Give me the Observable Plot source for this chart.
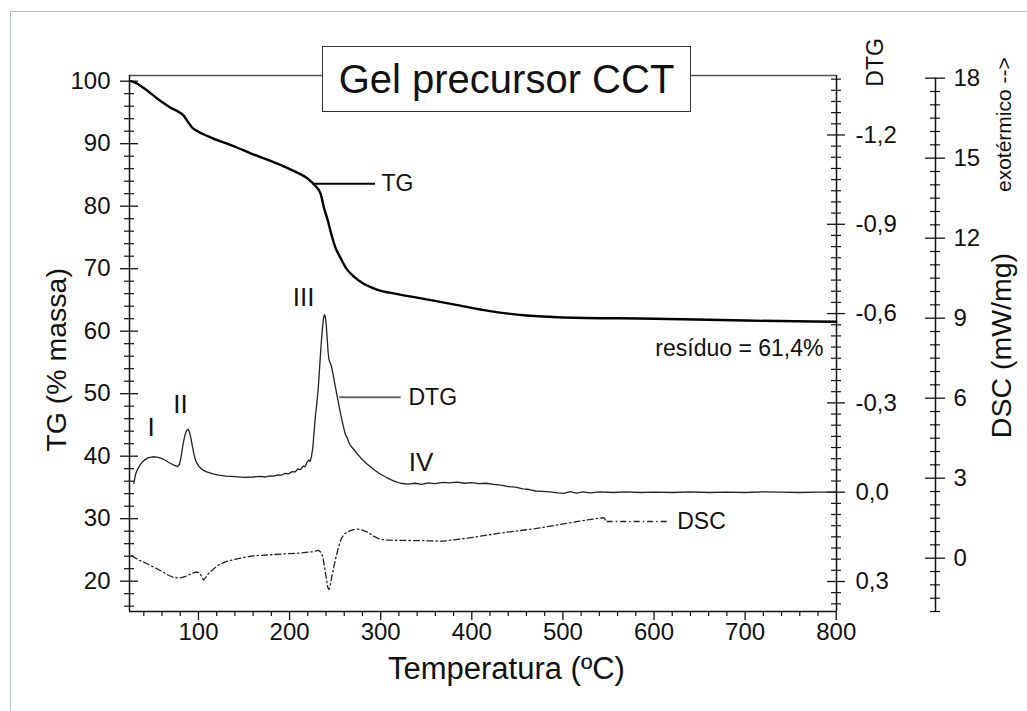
<!DOCTYPE html>
<html><head><meta charset="utf-8">
<script src="https://cdn.jsdelivr.net/npm/d3@7"></script>
<script src="https://cdn.jsdelivr.net/npm/@observablehq/plot@0.6"></script>
<style>
html,body{margin:0;padding:0;background:#fff;overflow:hidden;width:1027px;height:711px;}
#wrap{position:relative;width:1027px;height:711px;}
#border{position:absolute;left:10px;top:11px;width:1100px;height:800px;border:1px solid #b4bcc4;}
#chart{position:absolute;left:0;top:0;}
#title{position:absolute;left:322px;top:46px;width:369px;height:66px;box-sizing:border-box;border:1.5px solid #333;background:#fff;font:40px "Liberation Sans",Arial,sans-serif;display:flex;align-items:center;justify-content:center;color:#111;z-index:2;}
</style></head>
<body><div id="wrap"><div id="border"></div><div id="chart"></div><div id="title">Gel precursor CCT</div></div>
<script>
// ---- data (temperature °C, value) ----
const tgCurve = [[26,100.0],[30,99.8],[40,98.9],[55,97.2],[69,95.8],[78,95.1],[83,94.6],[88,93.6],[93,92.6],[100,91.9],[115,90.9],[137,89.7],[160,88.3],[185,86.9],[205,85.6],[220,84.4],[228,83.3],[234,82.0],[238,79.6],[242,77.7],[246,75.4],[250,73.5],[256,71.7],[262,70.1],[270,68.8],[280,67.7],[295,66.7],[320,65.9],[350,65.1],[380,64.3],[420,63.2],[460,62.5],[500,62.2],[600,62.0],[700,61.7],[800,61.5]];
const dtgCurve = [[29,-0.030],[31,-0.060],[33,-0.076],[36,-0.092],[40,-0.106],[45,-0.116],[50,-0.119],[56,-0.117],[62,-0.110],[68,-0.099],[73,-0.091],[77,-0.086],[79,-0.092],[81,-0.120],[83,-0.160],[85,-0.190],[87,-0.207],[88.5,-0.212],[90,-0.203],[91.5,-0.185],[93,-0.160],[95,-0.128],[97,-0.105],[100,-0.088],[104,-0.076],[109,-0.068],[115,-0.062],[122,-0.057],[130,-0.054],[140,-0.052],[150,-0.050],[160,-0.051],[168,-0.053],[173,-0.051],[178,-0.055],[183,-0.054],[187,-0.058],[191,-0.057],[195,-0.063],[199,-0.062],[203,-0.069],[206,-0.068],[209,-0.078],[212,-0.076],[215,-0.088],[217,-0.085],[219,-0.100],[221,-0.108],[222.5,-0.104],[224,-0.118],[225.5,-0.150],[227,-0.205],[228.5,-0.260],[230,-0.300],[231.5,-0.350],[233,-0.420],[234.5,-0.490],[236,-0.550],[237.3,-0.585],[238.3,-0.596],[239.3,-0.588],[240.3,-0.560],[241.3,-0.515],[242.3,-0.470],[243.3,-0.445],[244.5,-0.435],[246,-0.422],[247.5,-0.400],[249,-0.375],[251,-0.342],[253,-0.310],[255,-0.278],[257,-0.248],[259,-0.222],[261,-0.196],[263,-0.184],[265,-0.168],[267,-0.156],[270,-0.145],[274,-0.130],[279,-0.112],[285,-0.095],[292,-0.077],[299,-0.062],[306,-0.050],[314,-0.038],[322,-0.030],[330,-0.027],[338,-0.030],[345,-0.026],[352,-0.031],[360,-0.029],[368,-0.033],[376,-0.031],[384,-0.034],[392,-0.030],[400,-0.032],[408,-0.029],[416,-0.030],[424,-0.026],[432,-0.024],[440,-0.019],[448,-0.017],[456,-0.011],[463,-0.009],[470,-0.004],[478,-0.003],[486,-0.001],[494,0.002],[501,0.004],[508,-0.002],[515,0.003],[522,-0.001],[530,0.002],[540,-0.001],[555,0.001],[570,-0.001],[585,0.001],[600,0.000],[620,0.001],[640,-0.001],[660,0.001],[680,0.000],[700,0.001],[720,-0.001],[740,0.000],[760,0.001],[780,0.000],[800,0.000]];
const dscCurve = [[27,0.10],[29,0.04],[35,-0.08],[40,-0.15],[50,-0.32],[58,-0.46],[66,-0.62],[73,-0.73],[80,-0.74],[86,-0.68],[92,-0.58],[97,-0.52],[100.5,-0.53],[103,-0.65],[105.5,-0.82],[108,-0.72],[111,-0.58],[116,-0.42],[121,-0.27],[130,-0.13],[139,-0.05],[150,0.03],[160,0.09],[175,0.12],[194,0.16],[210,0.19],[225,0.24],[232,0.29],[234.5,0.22],[236.5,0.05],[238.5,-0.35],[240.5,-0.80],[242,-1.10],[243.2,-1.18],[244.5,-1.05],[246,-0.75],[248.5,-0.34],[251,0.05],[254,0.45],[257,0.75],[260,0.90],[264,1.00],[270,1.07],[275,1.09],[280,1.05],[286,0.97],[292,0.83],[298,0.73],[305,0.68],[320,0.67],[340,0.66],[369,0.64],[395,0.75],[431,0.94],[468,1.10],[505,1.31],[527,1.44],[543,1.51],[545,1.52],[547,1.41]];

const xTicks = [100,200,300,400,500,600,700,800];
const tgTicks = [20,30,40,50,60,70,80,90,100];
const dtgTicks = [-1.2,-0.9,-0.6,-0.3,0.0,0.3];
const dscTicks = [0,3,6,9,12,15,18];

const romanLabels = ["I","II","III","IV"];
const romanTemp = [47.9,80.2,215.3,344.2];
const romanTG = [44.5,48.3,65.4,39.0];

// ---- scales ----
const X0 = 24.3, X1 = 800.3, Y0 = 15.15, Y1 = 100.91;
const W = 1027, H = 711, ML = 129, MR = 191, MT = 75, MB = 100;
const kx = (W - MR - ML) / (X1 - X0), ky = (H - MB - MT) / (Y1 - Y0);
const ox = px => px / kx, oy = px => px / ky;
const dtgTG = v => 34.24 - 47.63 * v;     // DTG axis -> TG coordinate
const dscTG = d => 23.68 + 4.267 * d;     // DSC axis -> TG coordinate
const XD = X1 + ox(99);                    // DSC axis position

const FONT = "'Liberation Sans', Arial, sans-serif";
const fmtDTG = v => (Math.abs(v) < 1e-9 ? "0,0" : v.toFixed(1).replace(".", ","));

const tgMinor = d3.range(16, 101, 2).filter(v => v % 10 !== 0);
const xMinor = d3.range(40, 801, 20).filter(v => v % 100 !== 0);
const dtgMinor = d3.range(-37, 11).map(k => k * 0.0375).filter(v => v >= -1.39 && v <= 0.40 && Math.abs((v / 0.3) - Math.round(v / 0.3)) > 1e-6);
const dscMinor = d3.range(-4, 37).map(k => k * 0.5).filter(v => v % 3 !== 0);

const tgData = tgCurve.map(([t, v]) => ({t, v}));
const dtgData = dtgCurve.map(([t, v]) => ({t, v}));
const dscData = dscCurve.map(([t, v]) => ({t, v}));
const romanData = romanLabels.map((s, i) => ({s, t: romanTemp[i], y: romanTG[i]}));

const plot = Plot.plot({
  width: W, height: H,
  marginLeft: ML, marginRight: MR, marginTop: MT, marginBottom: MB,
  x: {domain: [X0, X1], axis: null},
  y: {domain: [Y0, Y1], axis: null},
  style: {fontFamily: FONT, color: "#111", background: "transparent"},
  marks: [
    // frame lines
    Plot.ruleY([Y1], {x1: X0, x2: X1, stroke: "#555", strokeWidth: 1.3}),
    Plot.ruleY([Y0], {x1: X0, x2: X1, stroke: "#111", strokeWidth: 1.5}),
    Plot.ruleX([X0], {y1: Y0, y2: Y1, stroke: "#111", strokeWidth: 1.5}),
    Plot.ruleX([X1], {y1: Y0, y2: Y1, stroke: "#111", strokeWidth: 1.5}),
    Plot.ruleX([XD], {y1: dscTG(-2), y2: dscTG(18), stroke: "#111", strokeWidth: 1.5}),
    // left axis ticks
    Plot.ruleY(tgTicks, {x1: X0 - ox(9), x2: X0 + ox(9), stroke: "#111", strokeWidth: 1.3}),
    Plot.ruleY(tgMinor, {x1: X0 - ox(5), x2: X0 + ox(5), stroke: "#111", strokeWidth: 1.2}),
    Plot.text(tgTicks, {x: X0, y: d => d, text: d => String(d), dx: -19, textAnchor: "end", fontSize: 24}),
    // bottom axis ticks
    Plot.ruleX(xTicks, {y1: Y0, y2: Y0 - oy(9), stroke: "#111", strokeWidth: 1.3}),
    Plot.ruleX(xMinor, {y1: Y0, y2: Y0 - oy(5), stroke: "#111", strokeWidth: 1.2}),
    Plot.text(xTicks, {x: d => d, y: Y0, text: d => String(d), dy: 21, fontSize: 24}),
    // DTG axis
    Plot.ruleY(dtgTicks, {y: d => dtgTG(d), x1: X1 - ox(9), x2: X1 + ox(9), stroke: "#111", strokeWidth: 1.3}),
    Plot.ruleY(dtgMinor, {y: d => dtgTG(d), x1: X1 - ox(5), x2: X1 + ox(5), stroke: "#111", strokeWidth: 1.2}),
    Plot.text(dtgTicks, {x: X1, y: d => dtgTG(d), text: fmtDTG, dx: 19, textAnchor: "start", fontSize: 24}),
    // DSC axis
    Plot.ruleY(dscTicks, {y: d => dscTG(d), x1: XD - ox(10), x2: XD + ox(10), stroke: "#111", strokeWidth: 1.3}),
    Plot.ruleY(dscMinor, {y: d => dscTG(d), x1: XD - ox(5), x2: XD + ox(5), stroke: "#111", strokeWidth: 1.2}),
    Plot.text(dscTicks, {x: XD, y: d => dscTG(d), text: d => String(d), dx: 18, textAnchor: "start", fontSize: 24}),
    // axis titles
    Plot.text(["TG (% massa)"], {x: X0 - ox(73), y: 55.4, rotate: -90, fontSize: 28.5}),
    Plot.text(["Temperatura (ºC)"], {x: 438, y: Y0, dy: 58, fontSize: 31}),
    Plot.text(["DTG"], {x: X1 + ox(39), y: 103.0, rotate: -90, fontSize: 23}),
    Plot.text(["exotérmico -->"], {x: X1 + ox(168), y: 93.05, rotate: -90, fontSize: 21}),
    Plot.text(["DSC (mW/mg)"], {x: X1 + ox(165), y: 57.7, rotate: -90, fontSize: 28.5}),
    // curves
    Plot.line(dscData, {x: "t", y: d => dscTG(d.v), stroke: "#222", strokeWidth: 1.3, strokeDasharray: "6,3,1.5,3"}),
    Plot.line(dtgData, {x: "t", y: d => dtgTG(d.v), stroke: "#222", strokeWidth: 1.3}),
    Plot.line(tgData, {x: "t", y: "v", stroke: "#000", strokeWidth: 2.4, curve: "monotone-x"}),
    // annotations
    Plot.ruleY([83.6], {x1: 226, x2: 294.3, stroke: "#000", strokeWidth: 2}),
    Plot.text(["TG"], {x: 300.9, y: 83.6, textAnchor: "start", fontSize: 23}),
    Plot.ruleY([-0.319], {y: d => dtgTG(d), x1: 255, x2: 322.5, stroke: "#666", strokeWidth: 1.8}),
    Plot.text(["DTG"], {x: 330.5, y: dtgTG(-0.319), textAnchor: "start", fontSize: 23}),
    Plot.ruleY([1.376], {y: d => dscTG(d), x1: 548.6, x2: 616.2, stroke: "#222", strokeWidth: 1.3, strokeDasharray: "6,3,1.5,3"}),
    Plot.text(["DSC"], {x: 625.5, y: dscTG(1.376), textAnchor: "start", fontSize: 23}),
    Plot.text(["resíduo = 61,4%"], {x: 786, y: 57.2, textAnchor: "end", fontSize: 23}),
    Plot.text(romanData, {x: "t", y: "y", text: "s", fontSize: 26})
  ]
});
document.getElementById("chart").appendChild(plot);
</script>
</body></html>
